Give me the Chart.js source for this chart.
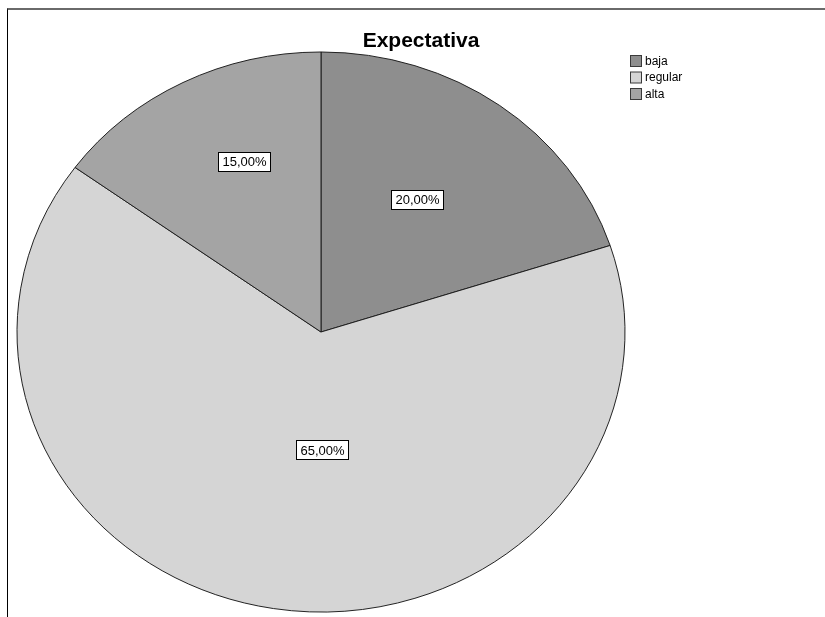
<!DOCTYPE html>
<html>
<head>
<meta charset="utf-8">
<script src="https://cdn.jsdelivr.net/npm/chart.js@4/dist/chart.umd.min.js"></script>
<style>
  html, body { margin: 0; padding: 0; background: #ffffff; }
  #wrap { position: relative; width: 825px; height: 617px; overflow: hidden; }
  #frame { position: absolute; left: 7px; top: 8px; width: 818px; height: 609px;
           border-top: 2px solid #6a6a6a; border-left: 1px solid #000; box-sizing: border-box; }
  canvas { position: absolute; left: 0; top: 0; }
</style>
</head>
<body>
<div id="wrap">
  <div id="frame"></div>
  <canvas id="c" width="825" height="617"></canvas>
</div>
<script>
// ---- data ----
const chartTitle = 'Expectativa';
const categories = ['baja', 'regular', 'alta'];
const percentages = [20, 65, 15];
const sliceColors = ['#8e8e8e', '#d5d5d5', '#a4a4a4'];

function fmtPct(v) { return v.toFixed(2).replace('.', ',') + '%'; }

const FONT = '"Liberation Sans", Arial, sans-serif';
const Y_SCALE = 280 / 304; // SPSS pie is slightly squashed vertically

const ellipsePlugin = {
  id: 'ellipse',
  beforeDatasetsDraw(chart) {
    const arc = chart.getDatasetMeta(0).data[0];
    const ctx = chart.ctx;
    ctx.save();
    ctx.translate(arc.x, arc.y);
    ctx.scale(1, Y_SCALE);
    ctx.translate(-arc.x, -arc.y);
  },
  afterDatasetsDraw(chart, args, opts) {
    const ctx = chart.ctx;
    ctx.restore();
    // percentage labels
    const meta = chart.getDatasetMeta(0);
    ctx.save();
    ctx.font = '13px ' + FONT;
    ctx.textAlign = 'center';
    ctx.textBaseline = 'middle';
    meta.data.forEach((arc, i) => {
      const p = arc.getProps(['x', 'y', 'startAngle', 'endAngle', 'outerRadius']);
      const pos = opts.labelPos[i];
      const a = p.startAngle + (p.endAngle - p.startAngle) * pos[0];
      const r = p.outerRadius * pos[1];
      const lx = p.x + r * Math.cos(a);
      const ly = p.y + r * Math.sin(a) * Y_SCALE;
      const txt = fmtPct(percentages[i]);
      const w = ctx.measureText(txt).width + 8;
      const h = 19;
      ctx.fillStyle = '#ffffff';
      ctx.fillRect(Math.round(lx - w / 2) + 0.5, Math.round(ly - h / 2) + 0.5, Math.round(w), h);
      ctx.strokeStyle = '#000000';
      ctx.lineWidth = 1;
      ctx.strokeRect(Math.round(lx - w / 2) + 0.5, Math.round(ly - h / 2) + 0.5, Math.round(w), h);
      ctx.fillStyle = '#000000';
      ctx.fillText(txt, Math.round(lx) + 0.5, Math.round(ly) + 1);
    });
    ctx.restore();
  },
  afterDraw(chart, args, opts) {
    const ctx = chart.ctx;
    ctx.save();
    // title
    ctx.font = 'bold 21px ' + FONT;
    ctx.fillStyle = '#000';
    ctx.textAlign = 'center';
    ctx.textBaseline = 'alphabetic';
    ctx.fillText(chartTitle, opts.titleX, opts.titleY);
    // legend
    ctx.font = '12px ' + FONT;
    ctx.textAlign = 'left';
    ctx.textBaseline = 'middle';
    categories.forEach((c, i) => {
      const y = opts.legendY + i * opts.legendStep;
      ctx.fillStyle = sliceColors[i];
      ctx.fillRect(opts.legendX + 0.5, y + 0.5, 11, 11);
      ctx.strokeStyle = '#3a3a3a';
      ctx.lineWidth = 1;
      ctx.strokeRect(opts.legendX + 0.5, y + 0.5, 11, 11);
      ctx.fillStyle = '#000';
      ctx.fillText(c, opts.legendX + 15, y + 6.5);
    });
    ctx.restore();
  }
};

new Chart(document.getElementById('c'), {
  type: 'pie',
  data: {
    labels: categories,
    datasets: [{
      data: percentages,
      backgroundColor: sliceColors,
      borderColor: '#1a1a1a',
      borderWidth: 1,
      radius: 304
    }]
  },
  options: {
    responsive: false,
    animation: false,
    devicePixelRatio: 1,
    layout: { padding: { left: 0, right: 183, top: 47, bottom: 0 } },
    plugins: {
      legend: { display: false },
      title: { display: false },
      tooltip: { enabled: false },
      ellipse: {
        labelPos: [[0.47, 0.57], [0.46, 0.42], [0.58, 0.66]],
        titleX: 421, titleY: 47,
        legendX: 630, legendY: 55, legendStep: 16.5
      }
    }
  },
  plugins: [ellipsePlugin]
});
</script>
</body>
</html>
